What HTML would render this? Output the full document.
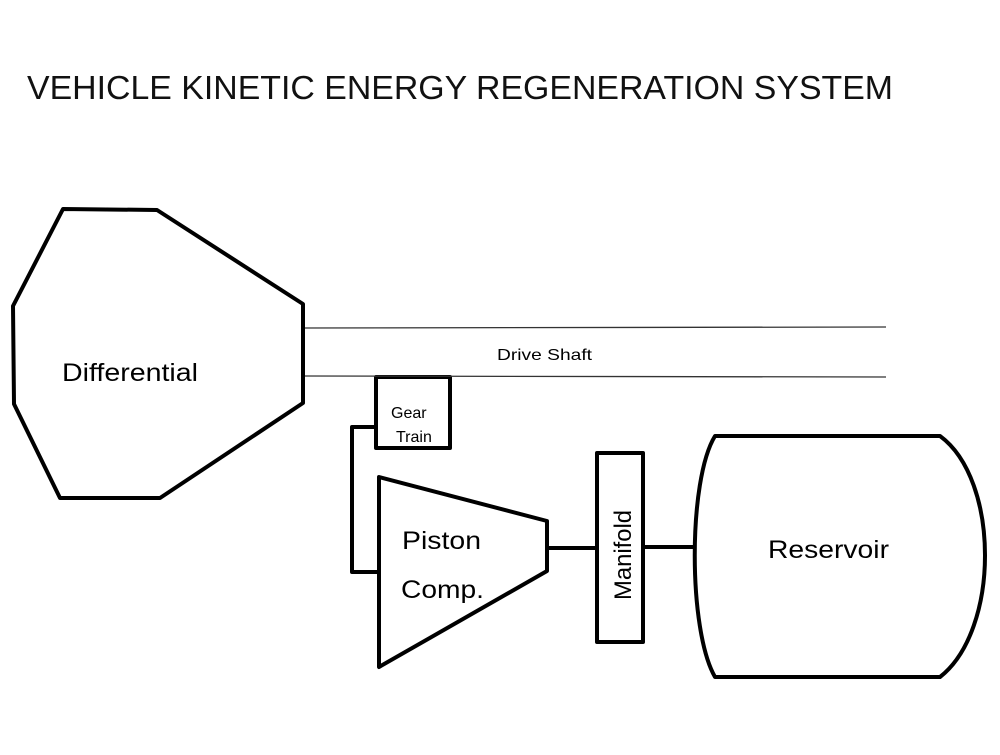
<!DOCTYPE html>
<html><head><style>body{margin:0;background:#fff}</style></head><body>
<svg width="1000" height="750" xmlns="http://www.w3.org/2000/svg" font-family="Liberation Sans, sans-serif">
<rect width="1000" height="750" fill="#fff"/>
<text x="27" y="99" font-size="33" fill="#111" textLength="866" lengthAdjust="spacingAndGlyphs">VEHICLE KINETIC ENERGY REGENERATION SYSTEM</text>
<g fill="none" stroke="#000" stroke-width="4" stroke-linejoin="round">
<polygon points="63,209 157,210 303,304 303,403 160,498 60,498 14,404 13,306"/>
<rect x="376" y="377" width="74" height="71"/>
<polyline points="376,427 352,427 352,572 379,572"/>
<polygon points="379,477 547,521 547,571 379,667"/>
<line x1="547" y1="548" x2="597" y2="548"/>
<rect x="597" y="453" width="46" height="189"/>
<line x1="643" y1="547" x2="694" y2="547"/>
<path d="M715,436 L940,436 C1000,480 1000,630 940,677 L715,677 C688,630 688,480 715,436 Z"/>
</g>
<g stroke="#333" stroke-width="1.3">
<line x1="305" y1="328" x2="886" y2="327"/>
<line x1="305" y1="376" x2="886" y2="377"/>
</g>
<text x="62" y="381" font-size="25" textLength="136" lengthAdjust="spacingAndGlyphs">Differential</text>
<text x="497" y="360" font-size="16" textLength="95" lengthAdjust="spacingAndGlyphs">Drive Shaft</text>
<text x="391" y="418" font-size="16">Gear</text>
<text x="396" y="442" font-size="16">Train</text>
<text x="402" y="549" font-size="25" textLength="79" lengthAdjust="spacingAndGlyphs">Piston</text>
<text x="401" y="598" font-size="25" textLength="83" lengthAdjust="spacingAndGlyphs">Comp.</text>
<text transform="translate(631,600) rotate(-90)" font-size="24" textLength="90" lengthAdjust="spacingAndGlyphs">Manifold</text>
<text x="768" y="558" font-size="25" textLength="121" lengthAdjust="spacingAndGlyphs">Reservoir</text>
</svg>
</body></html>
